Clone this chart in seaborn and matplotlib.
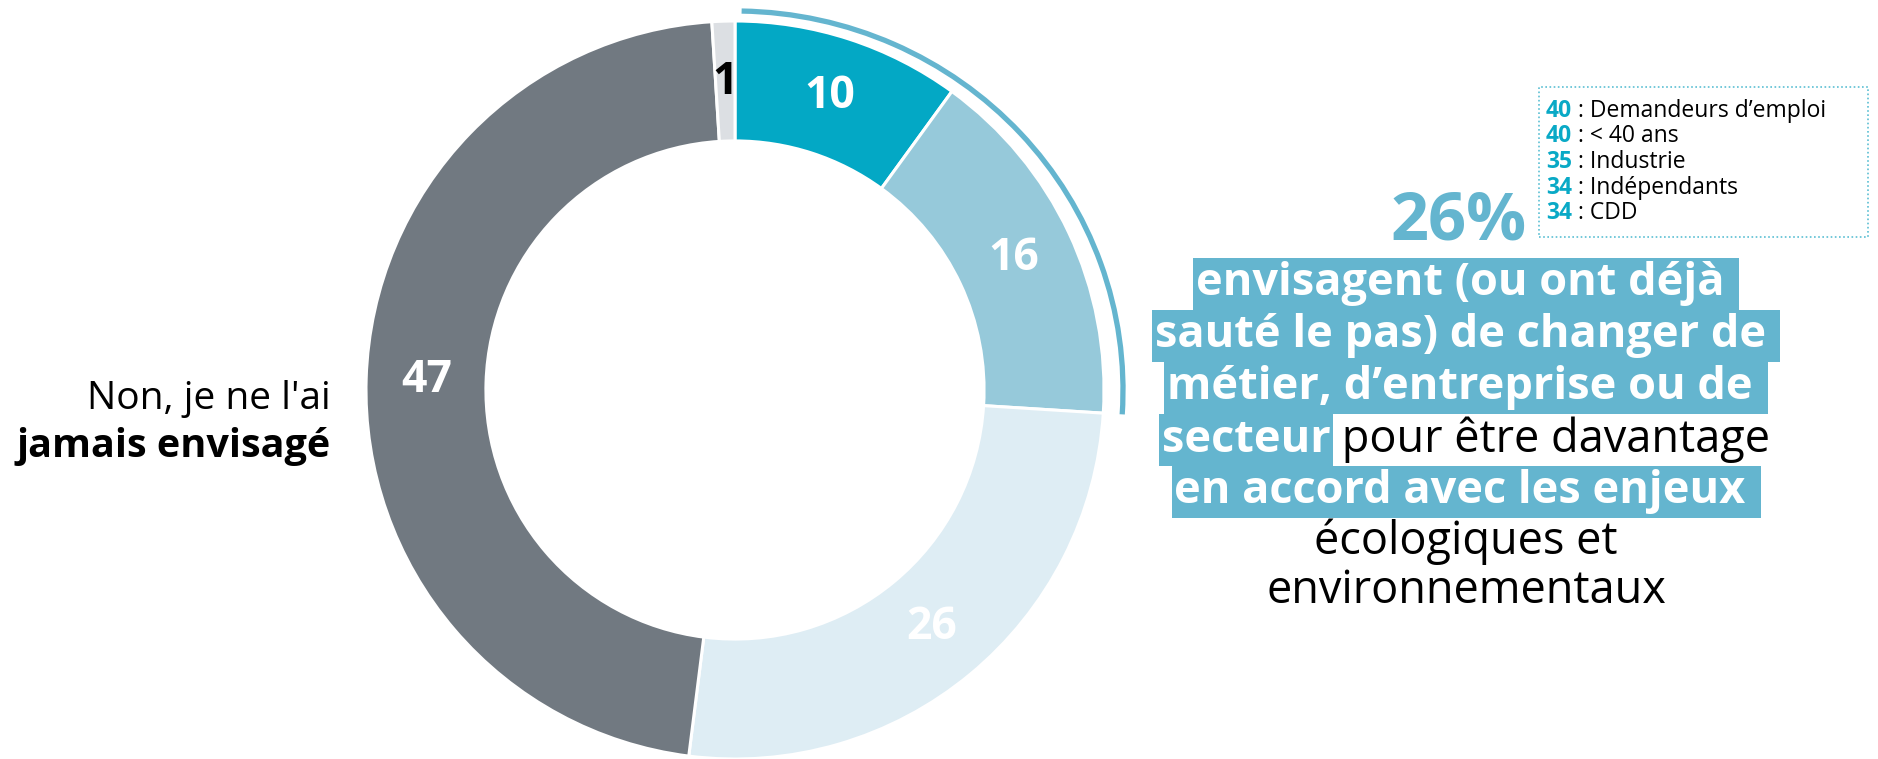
import matplotlib.pyplot as plt
import seaborn as sns
from matplotlib.patches import Arc, Rectangle

# donut values (clockwise from the top)
values = [10, 16, 26, 47, 1]
slice_colors = ["#03a8c5", "#96c9da", "#deedf4", "#717981", "#dcdfe3"]
label_colors = ["white", "white", "white", "white", "black"]
n_highlight = 2  # the first two slices make the 26%

# breakdown box
sub_values = [40, 40, 35, 34, 34]
sub_labels = ["Demandeurs d’emploi", "< 40 ans", "Industrie", "Indépendants", "CDD"]

# main text, (text, highlighted) per segment
text_lines = [
    [("envisagent (ou ont déjà ", True)],
    [("sauté le pas) de changer de ", True)],
    [("métier, d’entreprise ou de ", True)],
    [("secteur", True), (" pour être davantage", False)],
    [("en accord avec les enjeux ", True)],
    [("écologiques et", False)],
    [("environnementaux", False)],
]
left_label = ["Non, je ne l'ai", "jamais envisagé"]

W, H = 1878, 759
BLUE = "#64b5cf"
TEAL = "#09a9c6"

sns.set_theme(style="white")
plt.rcParams['font.family'] = ['Open Sans', 'DejaVu Sans']

fig = plt.figure(figsize=(W / 100, H / 100), dpi=100)


def fx(x):
    return x / W


def fy(y):
    return 1 - y / H


# donut
cx, cy, R = 735, 390, 369
half = 420
ax = fig.add_axes([fx(cx - half), fy(cy + half), 2 * half / W, 2 * half / H])
wedges, _, autotexts = ax.pie(
    values, colors=slice_colors, startangle=90, counterclock=False, radius=R,
    wedgeprops=dict(width=0.325 * R, edgecolor="white", linewidth=2.2),
    autopct=lambda p: f"{p:.0f}", pctdistance=0.835,
    textprops=dict(fontsize=32, fontweight="bold"))
for t, c in zip(autotexts, label_colors):
    t.set_color(c)
ax.set_xlim(-half, half)
ax.set_ylim(-half, half)
ax.axis("off")

share = sum(values[:n_highlight]) / sum(values)
ax.add_patch(Arc((0, 0), 2 * 388, 2 * 379, theta1=90 - 360 * share, theta2=89,
                 color=BLUE, lw=3.8))

# left label
fig.text(fx(331), fy(399), left_label[0], ha="right", va="center", fontsize=28, color="black")
fig.text(fx(331), fy(446), left_label[1], ha="right", va="center", fontsize=28.5,
         fontweight="bold", color="black")

# 26%
fig.text(fx(1459), fy(222), f"{round(share * 100)}%", ha="center", va="center",
         fontsize=48, fontweight="bold", color=BLUE)

# main text block
center_x = 1466
line_y = [284, 336, 388, 440, 492, 542, 591]
box_h = 52
fig.canvas.draw()
renderer = fig.canvas.get_renderer()
for segs, y in zip(text_lines, line_y):
    objs = []
    for s, hl in segs:
        t = fig.text(0, fy(y), s, ha="left", va="center", fontsize=32.5,
                     fontweight="bold" if hl else "normal",
                     color="white" if hl else "black", zorder=3)
        objs.append((t, hl))
    widths = [t.get_window_extent(renderer).width for t, _ in objs]
    x = center_x - sum(widths) / 2
    for (t, hl), w in zip(objs, widths):
        t.set_x(fx(x))
        if hl:
            fig.add_artist(Rectangle((fx(x - 3), fy(y + box_h / 2)), (w + 6) / W, box_h / H,
                                     transform=fig.transFigure, fc=BLUE, ec="none", zorder=2))
        x += w

# breakdown box
fig.add_artist(Rectangle((fx(1539), fy(237)), (1868 - 1539) / W, (237 - 87) / H,
                         transform=fig.transFigure, fill=False, ec="#5bbfd3",
                         lw=1.2, ls=(0, (1, 1.5))))
for i, (v, lab) in enumerate(zip(sub_values, sub_labels)):
    y = 111 + i * 25.5
    num = fig.text(fx(1546), fy(y), str(v), ha="left", va="center", fontsize=16.5,
                   fontweight="bold", color=TEAL)
    ax.annotate(f" : {lab}", xy=(1, 0.5), xycoords=num, ha="left", va="center",
                fontsize=16.5, color="black", annotation_clip=False)

plt.savefig("out.png", dpi=100)
